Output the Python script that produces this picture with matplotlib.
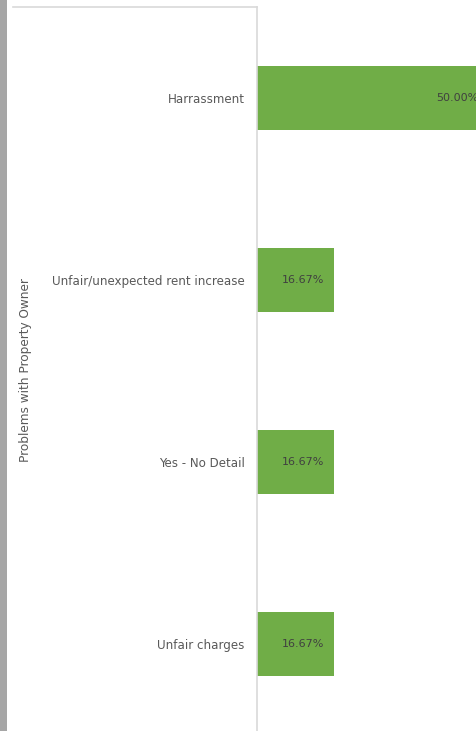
import matplotlib
matplotlib.use("Agg")
import matplotlib.pyplot as plt
from matplotlib.lines import Line2D
from matplotlib.patches import Rectangle

categories = ["Harrassment", "Unfair/unexpected rent increase", "Yes - No Detail", "Unfair charges"]
shares = [0.50, 0.1667, 0.1667, 0.1667]
axis_title = "Problems with Property Owner"

W, H = 477, 731
fig = plt.figure(figsize=(W / 100, H / 100), dpi=100)
fig.patch.set_facecolor("white")

# plot area (pixel geometry converted to figure fractions)
left_px, top_px = 257, 7
unit_px = 462          # pixels per 1.0 on the value axis
xmax = 0.6
cat_px = 182
height_px = cat_px * len(categories)
ax = fig.add_axes([left_px / W, (H - top_px - height_px) / H,
                   unit_px * xmax / W, height_px / H])
ax.set_xlim(0, xmax)
ax.set_ylim(len(categories) - 0.5, -0.5)

ypos = list(range(len(categories)))
ax.barh(ypos, shares, height=0.35, color="#70AD47", zorder=2)

for y, v in zip(ypos, shares):
    ax.annotate(f"{v * 100:.2f}%", xy=(v, y), xytext=(-10, 0),
                textcoords="offset pixels", ha="right", va="center",
                fontsize=8, color="#404040", family="DejaVu Sans", zorder=3)

ax.set_yticks(ypos)
ax.set_yticklabels(categories, fontsize=8.6, color="#595959")
ax.tick_params(axis="y", length=0, pad=9)
ax.set_xticks([])
for s in ["top", "right", "bottom"]:
    ax.spines[s].set_visible(False)
ax.spines["left"].set_color("#D9D9D9")
ax.spines["left"].set_linewidth(1.2)

# rotated axis title
fig.text(26 / W, 1 - 370 / H, axis_title, rotation=90, ha="center", va="center",
         fontsize=8.7, color="#595959")

# top border of the chart area
fig.add_artist(Line2D([13 / W, 257 / W], [1 - 7 / H, 1 - 7 / H],
                      color="#D9D9D9", linewidth=1.2, transform=fig.transFigure))

# gray strip along the left edge
fig.add_artist(Rectangle((0, 0), 7 / W, 1, transform=fig.transFigure,
                         facecolor="#A6A6A6", edgecolor="none"))

fig.savefig("out.png", dpi=100)
